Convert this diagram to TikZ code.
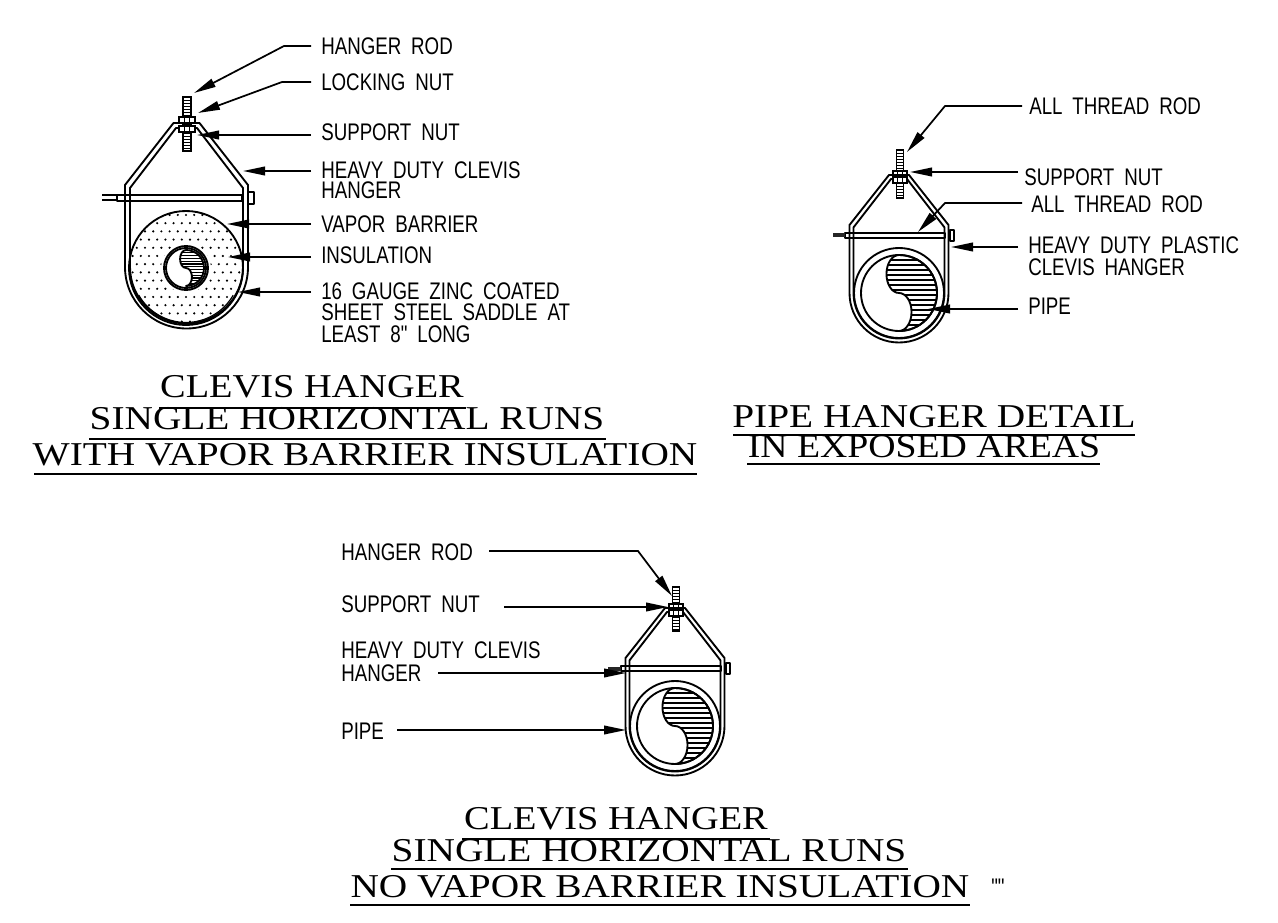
\documentclass[tikz,border=0pt]{standalone}
\usepackage{fontspec}
\usetikzlibrary{arrows.meta}
\newfontfamily\labfont[FakeStretch=0.78,WordSpace=1.9]{Liberation Sans}
\newfontfamily\titfont[FakeStretch=1.18]{Liberation Serif}
\tikzset{
  lab/.style={anchor=west,inner sep=0pt,font=\labfont\fontsize{18pt}{20pt}\selectfont},
  tit/.style={anchor=base,inner sep=0pt,font=\titfont\fontsize{25pt}{28pt}\selectfont},
  rule/.style={line width=1.4pt},
  leader/.style={line width=1.3pt,-{Stealth[length=16.5pt,width=6.5pt,inset=0pt]}},
  part/.style={line width=1.4pt,line join=round},
  thin part/.style={line width=0.9pt},
}
% cx top shoulder arc-centre half-width top-half-width offset
\newcommand\clevis[7]{%
  \draw[part] ({#1-#5},#3) -- ({#1-#6},#2) -- ({#1+#6},#2) -- ({#1+#5},#3) -- ({#1+#5},#4)
     arc[start angle=0,end angle=180,radius=#5] -- cycle;
  \draw[part] ({#1-#5+#7},{#3+0.6*#7}) -- ({#1-#6+0.5*#7},{#2+#7}) -- ({#1+#6-0.5*#7},{#2+#7}) -- ({#1+#5-#7},{#3+0.6*#7}) -- ({#1+#5-#7},#4)
     arc[start angle=0,end angle=180,radius={#5-#7}] -- cycle;
}
% cx y1 y2 half-width step
\newcommand\threadrod[5]{%
  \draw[thin part,fill=white] ({#1-#4},#2) rectangle ({#1+#4},#3);
  \pgfmathtruncatemacro\nn{(#3-#2)/#5}
  \foreach \i in {0,...,\nn} \draw[line width=0.7pt] ({#1-#4},{#2+\i*#5}) -- ({#1+#4},{#2+\i*#5});
}
% cx y1 y2 half-width
\newcommand\hexnut[4]{%
  \draw[thin part,fill=white] ({#1-#4},#2) rectangle ({#1+#4},#3);
  \draw[thin part] ({#1-0.33*#4},#2) -- ({#1-0.33*#4},#3) ({#1+0.33*#4},#2) -- ({#1+0.33*#4},#3);
}
% cx cy R spacing
\newcommand\yinyang[4]{%
  \begin{scope}
    \clip (#1,{#2-#3}) arc[start angle=270,end angle=450,radius=#3]
      arc[start angle=90,end angle=-90,x radius={0.33*#3},y radius={0.5*#3}]
      arc[start angle=90,end angle=270,x radius={0.33*#3},y radius={0.5*#3}] -- cycle;
    \pgfmathtruncatemacro\nn{2*#3/#4}
    \foreach \i in {0,...,\nn}
      \draw[line width=0.95pt] ({#1-#3},{#2-#3+\i*#4}) -- ({#1+#3},{#2-#3+\i*#4});
  \end{scope}
  \draw[part] (#1,{#2-#3}) arc[start angle=270,end angle=450,radius=#3]
      arc[start angle=90,end angle=-90,x radius={0.33*#3},y radius={0.5*#3}]
      arc[start angle=90,end angle=270,x radius={0.33*#3},y radius={0.5*#3}];
}
\begin{document}
\begin{tikzpicture}[x=0.75pt,y=-0.75pt]
\useasboundingbox (0,0) rectangle (1278,923);

% ---------- Detail 1
\begin{scope}
  \clip (186,268) circle[radius=57];
  \foreach \r in {0,...,14} {
    \pgfmathsetmacro\off{mod(\r,2)*4}
    \foreach \c in {-8,...,8}
      \fill ({186+\c*8.2+\off},{215+\r*8.2}) circle[radius=1.2];
  }
\end{scope}
\fill[white] (186,268) circle[radius=25];
\draw[part] (186,268) circle[radius=57];
\draw[thin part] (186,268) ++(30:54.5) arc[start angle=30,end angle=150,radius=54.5];
\draw[part] (186,268) circle[radius=22];
\draw[part] (186,268) circle[radius=20];
\yinyang{186}{268}{18}{2.8}
\draw[part,fill=white] (117,195) rectangle (242,201);
\draw[part] (102,195) -- (117,195) (102,200) -- (117,200);
\draw[part,fill=white] (248,192) rectangle (254,204);
\clevis{186.5}{123}{185}{267}{61.5}{13}{5}
\threadrod{187}{97}{151}{4}{3}
\hexnut{187}{117}{123}{8}
\hexnut{187}{126}{132}{8}

\node[lab] (a1) at (321,46) {HANGER ROD};
\node[lab] (a2) at (321,82) {LOCKING NUT};
\node[lab] (a3) at (321,132) {SUPPORT NUT};
\node[lab] (a4) at (321,170) {HEAVY DUTY CLEVIS};
\node[lab] (a4b) at (321,190) {HANGER};
\node[lab] (a5) at (321,224) {VAPOR BARRIER};
\node[lab] (a6) at (321,255) {INSULATION};
\node[lab] (a7) at (321,291) {16 GAUGE ZINC COATED};
\node[lab] (a7b) at (321,312) {SHEET STEEL SADDLE AT};
\node[lab] (a7c) at (321,334) {LEAST 8" LONG};
\coordinate (s1) at (311,46);  \coordinate (e1) at (284,46);  \coordinate (t1) at (194,93);
\coordinate (s2) at (311,82);  \coordinate (e2) at (282,82);  \coordinate (t2) at (198,113);
\coordinate (s3) at (311,135); \coordinate (t3) at (197,135);
\coordinate (s4) at (311,171); \coordinate (t4) at (243,171);
\coordinate (s5) at (311,224); \coordinate (t5) at (227,224);
\coordinate (s6) at (311,257); \coordinate (t6) at (228,257);
\coordinate (s7) at (311,292); \coordinate (t7) at (238,292);
\draw[leader] (s1) -- (e1) -- (t1);
\draw[leader] (s2) -- (e2) -- (t2);
\draw[leader] (s3) -- (t3);
\draw[leader] (s4) -- (t4);
\draw[leader] (s5) -- (t5);
\draw[leader] (s6) -- (t6);
\draw[leader] (s7) -- (t7);

\node[tit] (ta1) at (312,398) {\scalebox{0.975}[1]{CLEVIS HANGER}};
\node[tit] (ta2) at (347,430) {SINGLE HORIZONTAL RUNS};
\node[tit] (ta3) at (365,465) {WITH VAPOR BARRIER INSULATION};
\draw[rule] (159,408) -- (466,408);
\draw[rule] (89,439) -- (606,439);
\draw[rule] (34,474) -- (697,474);

% ---------- Detail 2
\draw[part] (899,293) circle[radius=45];
\draw[part] (899,293) circle[radius=38];
\yinyang{899}{293}{38}{5}
\draw[part,fill=white] (845,233) rectangle (945,238);
\draw[part,fill=white] (950,230) rectangle (954,241);
\draw[line width=3pt,black!85] (833,235.5) -- (845,235.5);
\clevis{899}{175}{225}{293}{49.5}{10}{4}
\threadrod{900}{150}{198}{3.5}{3}
\hexnut{900}{171}{175}{7}
\hexnut{900}{177}{183}{7}

\node[lab] (b1) at (1029,106) {ALL THREAD ROD};
\node[lab] (b2) at (1024,177) {SUPPORT NUT};
\node[lab] (b3) at (1031,204) {ALL THREAD ROD};
\node[lab] (b4) at (1028,245) {HEAVY DUTY PLASTIC};
\node[lab] (b4b) at (1028,267) {CLEVIS HANGER};
\node[lab] (b5) at (1028,306) {PIPE};
\coordinate (u1) at (1022,106); \coordinate (f1) at (945,106); \coordinate (v1) at (907,152);
\coordinate (u2) at (1018,172); \coordinate (v2) at (910,172);
\coordinate (u3) at (1022,203); \coordinate (f3) at (945,203); \coordinate (v3) at (918,232);
\coordinate (u4) at (1018,247); \coordinate (v4) at (951,247);
\coordinate (u5) at (1018,309); \coordinate (v5) at (928,309);
\draw[leader] (u1) -- (f1) -- (v1);
\draw[leader] (u2) -- (v2);
\draw[leader] (u3) -- (f3) -- (v3);
\draw[leader] (u4) -- (v4);
\draw[leader] (u5) -- (v5);

\node[tit] (tb1) at (934,428) {PIPE HANGER DETAIL};
\node[tit] (tb2) at (924,458) {\scalebox{0.96}[1]{IN EXPOSED AREAS}};
\draw[rule] (733,435) -- (1135,435);
\draw[rule] (747,464) -- (1100,464);

% ---------- Detail 3
\draw[part] (675,726) circle[radius=45];
\draw[part] (675,726) circle[radius=38];
\yinyang{675}{726}{38}{5}
\draw[part,fill=white] (621,666) rectangle (721,671);
\draw[part,fill=white] (726,663) rectangle (730,674);
\draw[line width=3pt,black!85] (608,668.5) -- (621,668.5);
\clevis{675}{608}{658}{726}{49.5}{10}{4}
\threadrod{676}{587}{631}{3.5}{3}
\hexnut{676}{604}{608}{7}
\hexnut{676}{610}{616}{7}

\node[lab] (c1) at (341,552) {HANGER ROD};
\node[lab] (c2) at (341,604) {SUPPORT NUT};
\node[lab] (c3) at (341,650) {HEAVY DUTY CLEVIS};
\node[lab] (c3b) at (341,673) {HANGER};
\node[lab] (c4) at (341,731) {PIPE};
\coordinate (w1) at (489,551); \coordinate (g1) at (638,551); \coordinate (x1) at (672,596);
\coordinate (w2) at (504,607); \coordinate (x2) at (668,607);
\coordinate (w3) at (438,673); \coordinate (x3) at (626,673);
\coordinate (w4) at (397,730); \coordinate (x4) at (626,730);
\draw[leader] (w1) -- (g1) -- (x1);
\draw[leader] (w2) -- (x2);
\draw[leader] (w3) -- (x3);
\draw[leader] (w4) -- (x4);

\node[tit] (tc1) at (616,829) {\scalebox{0.975}[1]{CLEVIS HANGER}};
\node[tit] (tc2) at (649,861) {SINGLE HORIZONTAL RUNS};
\node[tit] (tc3) at (660,897) {NO VAPOR BARRIER INSULATION};
\node[lab] (tc4) at (991,887) {""};
\draw[rule] (462,839) -- (770,839);
\draw[rule] (391,869) -- (908,869);
\draw[rule] (350,905) -- (970,905);
\end{tikzpicture}
\end{document}
